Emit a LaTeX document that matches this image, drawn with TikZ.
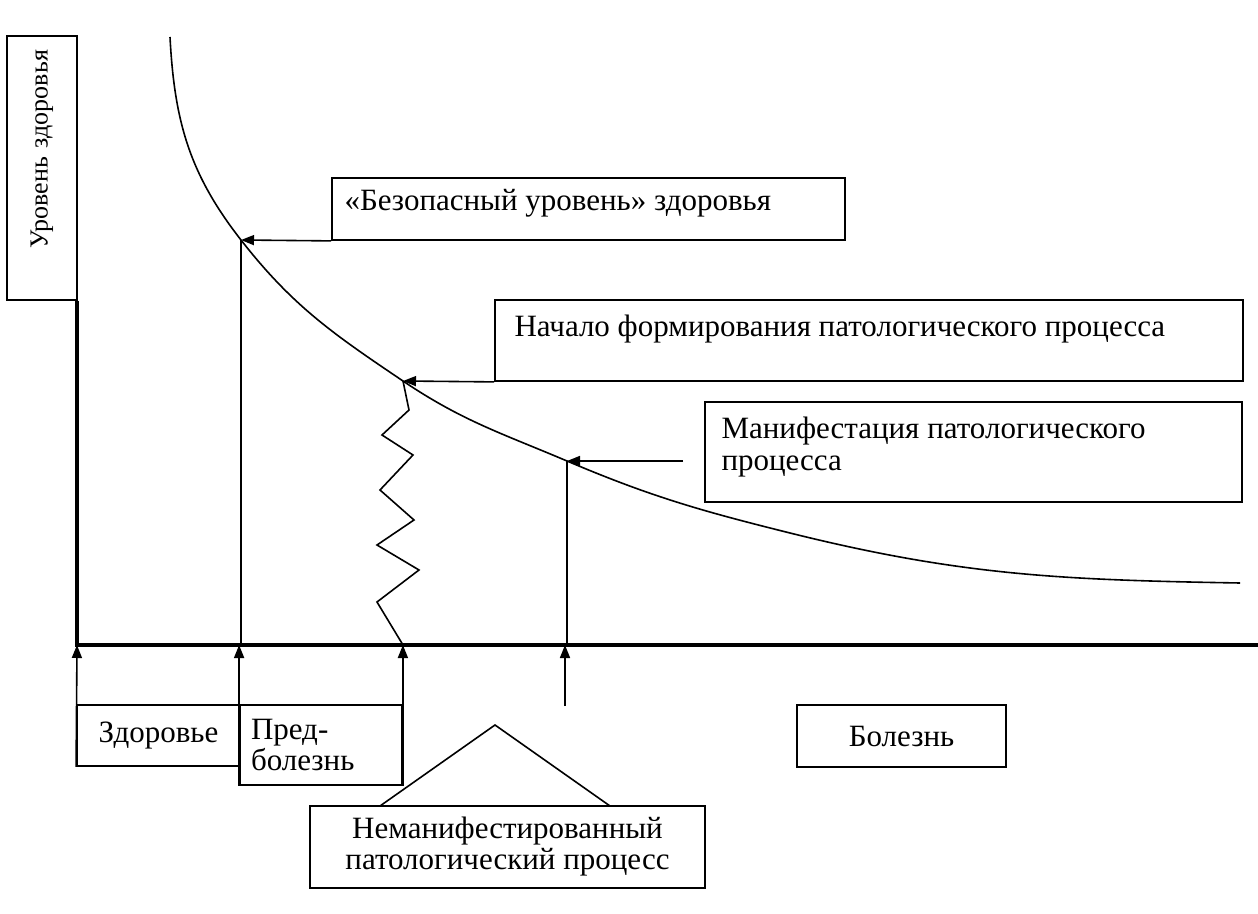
\documentclass[tikz,border=0pt]{standalone}
\usepackage{fontspec}
\setmainfont{Liberation Serif}
\usetikzlibrary{positioning, arrows.meta}

\begin{document}
\begin{tikzpicture}[
    x=0.5pt, y=-0.5pt,
    font=\fontsize{15.5}{15.5}\selectfont,
    frame/.style={draw, line width=0.9pt, inner sep=0pt},
    txt/.style={inner sep=0pt, anchor=north west, align=left},
    pointer/.style={line width=0.8pt, -{Triangle[length=6.5pt,width=5pt]}},
    thin line/.style={line width=0.8pt},
    axis/.style={line width=1.6pt}
]
\useasboundingbox (0,0) rectangle (1258,914);

  % axes
  \node[frame, rotate=90, minimum width=132pt, minimum height=35pt, font=\fontsize{13}{15}\selectfont,
        text width=118pt, align=right, inner xsep=7pt] (ylab) at (42,168) {Уровень здоровья};
  \coordinate (origin) at (77,645);
  \coordinate (xend) at (1258,645);
  \draw[axis] (origin |- ylab.west) -- (origin) -- (xend);

  % health level curve
  \coordinate (cTop) at (170,37);
  \coordinate (pSafe) at (241,240);
  \coordinate (pStart) at (403,381);
  \coordinate (pManif) at (567,461);
  \coordinate (cMid) at (790,533);
  \coordinate (cEnd) at (1240,583);
  \draw[thin line] (cTop) to[out=-87, in=128] (pSafe) to[out=-52, in=146] (pStart)
    to[out=-34, in=157] (pManif) to[out=-23, in=166] (cMid) to[out=-14, in=179] (cEnd);

  % safe level
  \node[frame, minimum width=256.5pt, minimum height=31pt] (safe) at (588.5,209) {};
  \node[txt, below right=6pt and 6.5pt of safe.north west] {«Безопасный уровень» здоровья};
  \draw[pointer] (safe.south west) -- (pSafe);
  \draw[thin line] (pSafe) -- (pSafe |- origin);

  % start of the process
  \node[frame, minimum width=374pt, minimum height=40.5pt] (start) at (869,340.5) {};
  \node[txt, below right=7.5pt and 10pt of start.north west] {Начало формирования патологического процесса};
  \draw[pointer] (start.south west) -- (pStart);
  \draw[thin line] (pStart) -- (409,410) -- (382,435) -- (413,455) -- (380,490) -- (414,520)
    -- (377,545) -- (419,570) -- (377,602) -- (pStart |- origin);

  % manifestation
  \node[frame, minimum width=268.5pt, minimum height=50pt] (manif) at (973.5,452) {};
  \node[txt, below right=7.5pt and 8.5pt of manif.north west, font=\fontsize{15.5}{16}\selectfont]
    {Манифестация патологического\\процесса};
  \coordinate (mTail) at (683,461);
  \draw[pointer] (mTail) -- (pManif);
  \draw[thin line] (pManif) -- (pManif |- origin);

  % stages
  \node[frame, minimum width=81.5pt, minimum height=30.5pt] (health) at (158.5,735.5) {Здоровье};
  \node[frame, minimum width=81pt, minimum height=40pt, text width=70pt, inner xsep=5.5pt,
        align=left] (prehealth) at (321,745) {Пред-\\болезнь};
  \node[frame, minimum width=104.5pt, minimum height=31pt] (illness) at (901.5,736) {Болезнь};
  \node[frame, minimum width=197.5pt, minimum height=41pt, align=center] (unman) at (507.5,847)
    {Неманифестированный\\патологический процесс};

  \draw[pointer] (health.south west) -- (origin);
  \draw[pointer] (prehealth.south west) -- (prehealth.south west |- origin);
  \draw[pointer] (prehealth.south east) -- (prehealth.south east |- origin);
  \coordinate (mFoot) at (565,706);
  \draw[pointer] (mFoot) -- (mFoot |- origin);

  % bracket over the hidden process
  \coordinate (triL) at (380,806);
  \coordinate (apex) at (495,725);
  \coordinate (triR) at (610,806);
  \draw[thin line] (triL) -- (apex) -- (triR);
\end{tikzpicture}
\end{document}
